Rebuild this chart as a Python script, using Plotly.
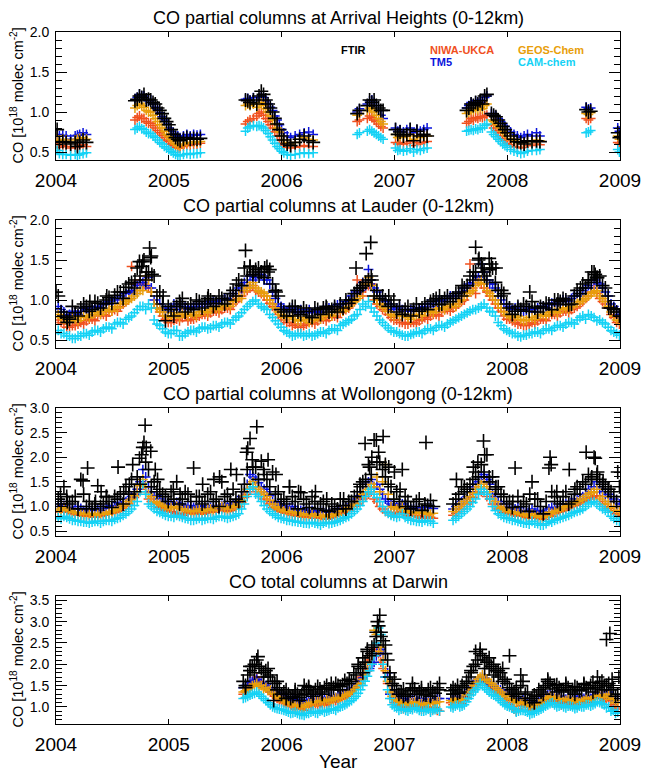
import plotly.graph_objects as go

# ---------------- Arrival Heights (0-12 km partial columns) ----------------
ah_t = [2004.01, 2004.03, 2004.06, 2004.09, 2004.13, 2004.17, 2004.19, 2004.21, 2004.24, 2004.27,
        2004.70, 2004.72, 2004.74, 2004.76, 2004.78, 2004.80, 2004.82, 2004.84, 2004.86, 2004.88,
        2004.90, 2004.92, 2004.94, 2004.96, 2004.98, 2005.00, 2005.02, 2005.04, 2005.06, 2005.08,
        2005.10, 2005.13, 2005.16, 2005.19, 2005.22, 2005.25, 2005.28,
        2005.68, 2005.70, 2005.72, 2005.75, 2005.78, 2005.80, 2005.82, 2005.84, 2005.86, 2005.88,
        2005.90, 2005.92, 2005.94, 2005.96, 2005.98, 2006.00, 2006.02, 2006.05, 2006.08, 2006.12,
        2006.16, 2006.20, 2006.24, 2006.28,
        2006.67, 2006.69, 2006.76, 2006.78, 2006.80, 2006.82, 2006.84, 2006.86, 2006.88, 2006.90,
        2007.01, 2007.03, 2007.05, 2007.08, 2007.11, 2007.14, 2007.17, 2007.20, 2007.23, 2007.26, 2007.29,
        2007.64, 2007.66, 2007.68, 2007.70, 2007.72, 2007.74, 2007.76, 2007.78, 2007.80, 2007.82,
        2007.86, 2007.88, 2007.90, 2007.92, 2007.94, 2007.96, 2007.98, 2008.00, 2008.03, 2008.06,
        2008.09, 2008.12, 2008.15, 2008.18, 2008.22, 2008.26, 2008.29,
        2008.70, 2008.72, 2008.74,
        2008.98, 2008.995]
ah_ftir = [0.78, 0.62, 0.63, 0.62, 0.60, 0.62, 0.57, 0.62, 0.65, 0.62,
           1.14, 1.16, 1.20, 1.18, 1.22, 1.15, 1.16, 1.15, 1.12, 1.10, 1.05, 1.02, 0.98, 0.92, 0.88,
           0.84, 0.78, 0.72, 0.68, 0.66, 0.64, 0.66, 0.68, 0.66, 0.67, 0.66, 0.67,
           1.15, 1.14, 1.12, 1.15, 1.10, 1.20, 1.26, 1.22, 1.15, 1.10, 1.05, 1.00, 0.92, 0.85, 0.78,
           0.70, 0.65, 0.60, 0.58, 0.62, 0.66, 0.70, 0.64, 0.62,
           0.98, 1.02, 1.08, 1.15, 1.12, 1.15, 1.08, 1.05, 1.02, 1.02,
           0.78, 0.72, 0.75, 0.70, 0.72, 0.78, 0.64, 0.76, 0.70, 0.72, 0.70,
           1.02, 1.05, 1.10, 1.08, 1.12, 1.10, 1.14, 1.10, 1.20, 1.22, 0.98, 0.96, 0.94, 0.90, 0.86, 0.82, 0.78,
           0.74, 0.70, 0.66, 0.63, 0.62, 0.60, 0.64, 0.63, 0.64, 0.63,
           1.03, 1.00, 1.01,
           0.74, 0.68]
ah_tm5 = [0.72, 0.70, 0.71, 0.70, 0.66, 0.70, 0.71, 0.72, 0.74, 0.72,
          1.15, 1.18, 1.22, 1.20, 1.20, 1.16, 1.14, 1.15, 1.10, 1.06, 1.03, 0.99, 0.94, 0.90, 0.85,
          0.80, 0.76, 0.73, 0.70, 0.70, 0.68, 0.70, 0.72, 0.70, 0.72, 0.71, 0.72,
          1.16, 1.17, 1.15, 1.18, 1.12, 1.18, 1.20, 1.18, 1.14, 1.10, 1.06, 1.02, 0.95, 0.90, 0.84,
          0.78, 0.74, 0.70, 0.68, 0.70, 0.72, 0.74, 0.75, 0.72,
          1.00, 1.04, 1.10, 1.14, 1.15, 1.12, 1.08, 1.02, 0.96, 0.92,
          0.80, 0.76, 0.78, 0.75, 0.78, 0.80, 0.74, 0.78, 0.76, 0.78, 0.80,
          1.05, 1.08, 1.12, 1.10, 1.14, 1.12, 1.15, 1.12, 1.18, 1.20, 0.98, 0.96, 0.95, 0.92, 0.88, 0.85, 0.82,
          0.78, 0.75, 0.72, 0.70, 0.68, 0.70, 0.72, 0.70, 0.74, 0.70,
          1.06, 1.04, 1.05,
          0.80, 0.76]
ah_geos = [0.70, 0.64, 0.66, 0.65, 0.62, 0.65, 0.66, 0.67, 0.68, 0.66,
           1.05, 1.08, 1.10, 1.08, 1.06, 1.02, 1.00, 1.00, 0.96, 0.92, 0.88, 0.84, 0.80, 0.76, 0.72,
           0.69, 0.66, 0.63, 0.60, 0.58, 0.58, 0.60, 0.62, 0.61, 0.63, 0.62, 0.63,
           1.08, 1.10, 1.08, 1.10, 1.06, 1.10, 1.12, 1.08, 1.04, 1.00, 0.95, 0.90, 0.85, 0.80, 0.75,
           0.70, 0.65, 0.62, 0.60, 0.62, 0.66, 0.68, 0.66, 0.65,
           0.96, 0.98, 1.02, 1.05, 1.04, 1.00, 0.96, 0.92, 0.88, 0.85,
           0.72, 0.68, 0.70, 0.68, 0.70, 0.72, 0.66, 0.70, 0.68, 0.70, 0.70,
           0.98, 1.00, 1.03, 1.02, 1.05, 1.03, 1.06, 1.04, 1.08, 1.10, 0.90, 0.88, 0.86, 0.83, 0.80, 0.76, 0.73,
           0.70, 0.67, 0.64, 0.62, 0.61, 0.62, 0.64, 0.63, 0.65, 0.64,
           0.98, 0.97, 0.99,
           0.70, 0.66]
ah_niwa = [0.60, 0.56, 0.58, 0.57, 0.55, 0.56, 0.56, 0.58, 0.59, 0.57,
           0.90, 0.93, 0.95, 0.92, 0.92, 0.88, 0.86, 0.86, 0.83, 0.80, 0.77, 0.74, 0.71, 0.68, 0.65,
           0.63, 0.60, 0.58, 0.56, 0.55, 0.55, 0.57, 0.59, 0.58, 0.60, 0.60, 0.61,
           0.85, 0.88, 0.90, 0.92, 0.95, 0.98, 1.00, 0.96, 0.92, 0.88, 0.84, 0.80, 0.75, 0.70, 0.65,
           0.61, 0.58, 0.56, 0.55, 0.56, 0.57, 0.58, 0.57, 0.57,
           0.88, 0.90, 0.92, 0.95, 0.93, 0.90, 0.88, 0.85, 0.82, 0.80,
           0.62, 0.60, 0.62, 0.60, 0.61, 0.63, 0.58, 0.62, 0.60, 0.62, 0.63,
           0.86, 0.88, 0.92, 0.90, 0.93, 0.92, 0.94, 0.93, 0.95, 0.96, 0.84, 0.80, 0.77, 0.74, 0.70, 0.67, 0.64,
           0.61, 0.59, 0.57, 0.56, 0.55, 0.56, 0.58, 0.58, 0.60, 0.59,
           0.92, 0.90, 0.92,
           0.62, 0.60]
ah_cam = [0.52, 0.48, 0.47, 0.47, 0.46, 0.47, 0.46, 0.47, 0.48, 0.49,
          0.78, 0.80, 0.82, 0.79, 0.78, 0.75, 0.73, 0.73, 0.70, 0.68, 0.65, 0.62, 0.60, 0.57, 0.55,
          0.53, 0.51, 0.49, 0.47, 0.46, 0.45, 0.47, 0.48, 0.47, 0.48, 0.48, 0.49,
          0.76, 0.80, 0.82, 0.83, 0.82, 0.83, 0.82, 0.80, 0.77, 0.73, 0.69, 0.65, 0.61, 0.57, 0.54,
          0.51, 0.49, 0.47, 0.46, 0.47, 0.48, 0.49, 0.48, 0.49,
          0.72, 0.74, 0.76, 0.78, 0.76, 0.74, 0.72, 0.70, 0.68, 0.66,
          0.55, 0.52, 0.53, 0.51, 0.52, 0.54, 0.50, 0.53, 0.52, 0.54, 0.55,
          0.76, 0.77, 0.78, 0.77, 0.79, 0.78, 0.80, 0.80, 0.83, 0.85, 0.75, 0.72, 0.69, 0.66, 0.63, 0.60, 0.58,
          0.56, 0.53, 0.51, 0.50, 0.48, 0.49, 0.51, 0.52, 0.52, 0.53,
          0.74, 0.75, 0.77,
          0.53, 0.50]

# ---------------- Lauder (0-12 km partial columns) ----------------
lau_t = [2004.02, 2004.07, 2004.12, 2004.17, 2004.22, 2004.27, 2004.32, 2004.37, 2004.42, 2004.47,
         2004.52, 2004.57, 2004.62, 2004.67, 2004.72, 2004.77, 2004.82, 2004.87, 2004.92, 2004.97,
         2005.02, 2005.07, 2005.12, 2005.17, 2005.22, 2005.27, 2005.32, 2005.37, 2005.42, 2005.47,
         2005.52, 2005.57, 2005.62, 2005.67, 2005.72, 2005.77, 2005.82, 2005.87, 2005.92, 2005.97,
         2006.02, 2006.07, 2006.12, 2006.17, 2006.22, 2006.27, 2006.32, 2006.37, 2006.42, 2006.47,
         2006.52, 2006.57, 2006.62, 2006.67, 2006.72, 2006.77, 2006.82, 2006.87, 2006.92, 2006.97,
         2007.02, 2007.07, 2007.12, 2007.17, 2007.22, 2007.27, 2007.32, 2007.37, 2007.42, 2007.47,
         2007.52, 2007.57, 2007.62, 2007.67, 2007.72, 2007.77, 2007.82, 2007.87, 2007.92, 2007.97,
         2008.02, 2008.07, 2008.12, 2008.17, 2008.22, 2008.27, 2008.32, 2008.37, 2008.42, 2008.47,
         2008.52, 2008.57, 2008.62, 2008.67, 2008.72, 2008.77, 2008.82, 2008.87, 2008.92, 2008.97]
lau_ftir = [1.05, 0.80, 0.76, 0.84, 0.90, 0.92, 0.88, 0.96, 0.95, 1.03, 1.06, 1.10, 1.16, 1.22, 1.40, 1.48, 1.35, 1.30, 1.10, 0.74,
            0.88, 0.92, 1.02, 0.90, 0.88, 0.98, 0.95, 1.00, 0.96, 1.02, 1.00, 1.12, 1.25, 1.40, 1.42, 1.38, 1.35, 1.42, 1.20, 1.05,
            0.85, 0.88, 0.92, 0.82, 0.86, 0.78, 0.88, 0.90, 0.85, 0.92, 0.95, 1.00, 1.00, 1.12, 1.18, 1.25, 1.05, 1.02, 1.00, 0.95,
            0.85, 0.82, 0.92, 0.88, 0.86, 0.95, 0.98, 1.02, 0.95, 1.05, 1.02, 1.10, 1.15, 1.30, 1.35, 1.45, 1.25, 1.40, 1.12, 1.08,
            0.90, 0.86, 0.88, 0.92, 0.98, 0.85, 0.90, 0.95, 1.00, 0.98, 1.00, 0.95, 1.12, 1.20, 1.25, 1.35, 1.30, 1.15, 0.90, 0.85]
lau_tm5 = [0.92, 0.85, 0.82, 0.84, 0.86, 0.88, 0.90, 0.92, 0.94, 0.98, 1.02, 1.05, 1.08, 1.12, 1.18, 1.22, 1.28, 1.00, 0.95, 0.88,
           0.90, 0.92, 0.95, 0.88, 0.92, 0.95, 0.98, 0.96, 0.98, 1.00, 1.02, 1.08, 1.15, 1.22, 1.30, 1.28, 1.32, 1.25, 1.10, 0.95,
           0.90, 0.88, 0.86, 0.88, 0.85, 0.84, 0.86, 0.88, 0.90, 0.92, 0.95, 0.98, 1.05, 1.10, 1.22, 1.38, 1.15, 1.05, 0.98, 0.92,
           0.90, 0.88, 0.86, 0.88, 0.90, 0.92, 0.95, 0.98, 1.00, 1.02, 1.05, 1.08, 1.15, 1.20, 1.30, 1.45, 1.25, 1.20, 1.05, 0.95,
           0.92, 0.90, 0.88, 0.86, 0.88, 0.90, 0.92, 0.94, 0.96, 0.98, 1.00, 1.02, 1.08, 1.12, 1.18, 1.25, 1.20, 1.10, 0.95, 0.85]
lau_geos = [0.82, 0.76, 0.74, 0.76, 0.78, 0.80, 0.82, 0.85, 0.86, 0.88, 0.92, 0.95, 0.98, 1.02, 1.08, 1.12, 1.25, 0.95, 0.88, 0.80,
            0.80, 0.82, 0.84, 0.80, 0.82, 0.85, 0.86, 0.88, 0.90, 0.92, 0.94, 0.98, 1.05, 1.12, 1.18, 1.15, 1.10, 1.05, 0.95, 0.85,
            0.80, 0.78, 0.76, 0.74, 0.76, 0.75, 0.78, 0.80, 0.82, 0.85, 0.88, 0.90, 0.96, 1.02, 1.15, 1.28, 1.05, 0.95, 0.90, 0.82,
            0.82, 0.80, 0.78, 0.80, 0.82, 0.85, 0.86, 0.88, 0.90, 0.92, 0.95, 0.98, 1.05, 1.10, 1.18, 1.25, 1.12, 1.05, 0.95, 0.85,
            0.80, 0.78, 0.76, 0.75, 0.78, 0.80, 0.82, 0.84, 0.86, 0.88, 0.90, 0.92, 0.96, 1.00, 1.05, 1.10, 1.05, 0.98, 0.85, 0.75]
lau_niwa = [0.75, 0.70, 0.66, 0.68, 0.72, 0.74, 0.76, 0.80, 0.82, 0.85, 0.88, 0.92, 0.98, 1.42, 1.12, 1.20, 1.15, 0.95, 0.85, 0.76,
            0.72, 0.76, 0.78, 0.74, 0.76, 0.80, 0.82, 0.84, 0.86, 0.88, 0.90, 0.95, 1.02, 1.10, 1.15, 1.12, 1.08, 1.00, 0.92, 0.82,
            0.75, 0.72, 0.70, 0.66, 0.70, 0.72, 0.74, 0.76, 0.78, 0.80, 0.84, 0.88, 0.95, 1.25, 1.05, 1.18, 1.00, 0.92, 0.86, 0.78,
            0.75, 0.72, 0.70, 0.72, 0.74, 0.78, 0.80, 0.82, 0.85, 0.88, 0.90, 0.95, 1.00, 1.45, 1.08, 1.20, 1.10, 1.00, 0.90, 0.80,
            0.76, 0.72, 0.70, 0.68, 0.72, 0.74, 0.76, 0.80, 0.82, 0.84, 0.86, 0.88, 0.92, 0.98, 1.05, 1.15, 1.02, 0.95, 0.82, 0.72]
lau_cam = [0.62, 0.58, 0.55, 0.52, 0.55, 0.58, 0.60, 0.62, 0.64, 0.66, 0.70, 0.72, 0.76, 0.80, 0.88, 0.92, 0.95, 0.75, 0.68, 0.60,
           0.58, 0.62, 0.55, 0.60, 0.62, 0.64, 0.66, 0.65, 0.68, 0.70, 0.72, 0.75, 0.80, 0.88, 0.95, 1.00, 0.92, 0.88, 0.78, 0.70,
           0.62, 0.58, 0.56, 0.58, 0.56, 0.55, 0.58, 0.60, 0.62, 0.64, 0.68, 0.72, 0.76, 0.82, 0.95, 0.98, 0.85, 0.75, 0.68, 0.62,
           0.60, 0.56, 0.55, 0.58, 0.60, 0.62, 0.64, 0.66, 0.68, 0.70, 0.74, 0.78, 0.82, 0.86, 0.88, 0.92, 0.90, 0.85, 0.72, 0.64,
           0.60, 0.58, 0.54, 0.56, 0.58, 0.60, 0.62, 0.64, 0.66, 0.68, 0.70, 0.72, 0.75, 0.80, 0.82, 0.78, 0.75, 0.70, 0.62, 0.58]
# second set of Lauder measurement days
lau_t_b = [2004.045, 2004.095, 2004.145, 2004.195, 2004.245, 2004.295, 2004.345, 2004.395, 2004.445, 2004.495,
           2004.545, 2004.595, 2004.645, 2004.695, 2004.745, 2004.795, 2004.845, 2004.895, 2004.945, 2004.995,
           2005.045, 2005.095, 2005.145, 2005.195, 2005.245, 2005.295, 2005.345, 2005.395, 2005.445, 2005.495,
           2005.545, 2005.595, 2005.645, 2005.695, 2005.745, 2005.795, 2005.845, 2005.895, 2005.945, 2005.995,
           2006.045, 2006.095, 2006.145, 2006.195, 2006.245, 2006.295, 2006.345, 2006.395, 2006.445, 2006.495,
           2006.545, 2006.595, 2006.645, 2006.695, 2006.745, 2006.795, 2006.845, 2006.895, 2006.945, 2006.995,
           2007.045, 2007.095, 2007.145, 2007.195, 2007.245, 2007.295, 2007.345, 2007.395, 2007.445, 2007.495,
           2007.545, 2007.595, 2007.645, 2007.695, 2007.745, 2007.795, 2007.845, 2007.895, 2007.945, 2007.995,
           2008.045, 2008.095, 2008.145, 2008.195, 2008.245, 2008.295, 2008.345, 2008.395, 2008.445, 2008.495,
           2008.545, 2008.595, 2008.645, 2008.695, 2008.745, 2008.795, 2008.845, 2008.895, 2008.945, 2008.995]
lau_ftir_b = [0.85, 0.78, 0.92, 0.80, 0.95, 0.86, 0.98, 0.90, 1.00, 0.96, 1.10, 1.02, 1.20, 1.15, 1.30, 1.25, 1.55, 1.05, 0.95, 0.92,
              0.80, 0.98, 0.85, 0.95, 1.00, 0.90, 1.02, 0.92, 1.05, 0.95, 1.08, 1.05, 1.18, 1.30, 1.32, 1.40, 1.28, 1.38, 1.12, 0.88,
              0.80, 0.92, 0.85, 0.90, 0.80, 0.90, 0.82, 0.92, 0.88, 0.85, 0.90, 0.96, 1.08, 1.15, 1.22, 1.30, 1.12, 1.05, 0.92, 1.00,
              0.92, 0.88, 0.80, 0.95, 0.90, 0.88, 1.00, 0.94, 1.02, 0.98, 1.08, 1.05, 1.18, 1.25, 1.50, 1.35, 1.38, 1.22, 1.05, 0.95,
              0.82, 0.92, 0.95, 0.86, 0.90, 0.92, 0.96, 0.88, 0.95, 1.02, 0.94, 1.05, 1.08, 1.15, 1.22, 1.28, 1.18, 1.05, 0.88, 0.80]
lau_tm5_b = [0.88, 0.80, 0.86, 0.82, 0.90, 0.85, 0.92, 0.90, 0.96, 0.95, 1.00, 1.02, 1.10, 1.08, 1.22, 1.18, 1.15, 0.95, 0.90, 0.85,
             0.95, 0.88, 0.92, 0.90, 0.95, 0.92, 0.95, 0.98, 0.95, 1.02, 1.00, 1.05, 1.12, 1.18, 1.25, 1.32, 1.25, 1.20, 1.02, 0.92,
             0.86, 0.90, 0.84, 0.85, 0.88, 0.86, 0.84, 0.90, 0.88, 0.94, 0.92, 1.00, 1.02, 1.12, 1.18, 1.25, 1.10, 1.00, 0.95, 0.88,
             0.92, 0.86, 0.88, 0.90, 0.88, 0.95, 0.92, 1.00, 0.98, 1.05, 1.02, 1.10, 1.12, 1.22, 1.28, 1.35, 1.20, 1.15, 1.00, 0.90,
             0.88, 0.92, 0.86, 0.90, 0.85, 0.92, 0.90, 0.96, 0.94, 1.00, 0.98, 1.05, 1.05, 1.15, 1.15, 1.22, 1.15, 1.05, 0.92, 0.82]
lau_geos_b = [0.78, 0.72, 0.78, 0.74, 0.80, 0.78, 0.84, 0.82, 0.88, 0.86, 0.90, 0.96, 1.00, 1.05, 1.12, 1.30, 1.10, 0.90, 0.85, 0.78,
              0.84, 0.78, 0.82, 0.84, 0.80, 0.86, 0.84, 0.90, 0.88, 0.94, 0.92, 1.00, 1.02, 1.15, 1.22, 1.12, 1.08, 1.00, 0.90, 0.82,
              0.78, 0.80, 0.74, 0.78, 0.72, 0.78, 0.76, 0.82, 0.80, 0.86, 0.86, 0.92, 0.98, 1.05, 1.20, 1.18, 1.00, 0.92, 0.86, 0.80,
              0.80, 0.82, 0.76, 0.82, 0.80, 0.86, 0.84, 0.90, 0.88, 0.94, 0.92, 1.00, 1.08, 1.12, 1.22, 1.20, 1.08, 1.00, 0.90, 0.82,
              0.78, 0.80, 0.74, 0.78, 0.76, 0.82, 0.80, 0.86, 0.84, 0.90, 0.88, 0.95, 0.98, 1.02, 1.08, 1.12, 1.02, 0.92, 0.80, 0.74]
lau_niwa_b = [0.72, 0.66, 0.68, 0.70, 0.70, 0.76, 0.74, 0.82, 0.80, 0.86, 0.86, 0.95, 1.02, 1.20, 1.25, 1.18, 1.10, 0.90, 0.80, 0.72,
              0.75, 0.74, 0.80, 0.76, 0.78, 0.82, 0.80, 0.86, 0.84, 0.90, 0.88, 0.98, 1.05, 1.12, 1.18, 1.10, 1.05, 0.96, 0.88, 0.78,
              0.72, 0.68, 0.66, 0.68, 0.72, 0.70, 0.76, 0.74, 0.80, 0.78, 0.86, 0.90, 0.98, 1.10, 1.15, 1.20, 0.95, 0.88, 0.82, 0.75,
              0.72, 0.70, 0.72, 0.70, 0.76, 0.76, 0.82, 0.80, 0.88, 0.86, 0.92, 0.98, 1.05, 1.15, 1.25, 1.15, 1.05, 0.95, 0.86, 0.76,
              0.74, 0.70, 0.68, 0.70, 0.70, 0.76, 0.74, 0.82, 0.80, 0.86, 0.84, 0.90, 0.95, 1.02, 1.10, 1.08, 0.98, 0.90, 0.78, 0.70]
lau_cam_b = [0.58, 0.55, 0.52, 0.55, 0.58, 0.56, 0.62, 0.60, 0.66, 0.64, 0.72, 0.70, 0.78, 0.84, 0.92, 0.88, 0.90, 0.70, 0.64, 0.58,
             0.62, 0.55, 0.58, 0.62, 0.60, 0.66, 0.64, 0.68, 0.66, 0.72, 0.70, 0.78, 0.84, 0.92, 0.98, 0.95, 0.90, 0.82, 0.74, 0.66,
             0.60, 0.55, 0.58, 0.55, 0.58, 0.56, 0.60, 0.58, 0.64, 0.62, 0.70, 0.74, 0.80, 0.88, 0.92, 0.90, 0.80, 0.72, 0.65, 0.60,
             0.58, 0.55, 0.57, 0.60, 0.58, 0.64, 0.62, 0.68, 0.66, 0.72, 0.76, 0.80, 0.84, 0.88, 0.90, 0.95, 0.86, 0.80, 0.68, 0.62,
             0.58, 0.55, 0.56, 0.58, 0.60, 0.58, 0.64, 0.62, 0.68, 0.66, 0.72, 0.70, 0.78, 0.76, 0.80, 0.74, 0.72, 0.66, 0.60, 0.56]
lau_ftir_extra_t = [2004.00, 2004.10, 2004.30, 2004.45, 2004.60, 2004.70, 2004.74, 2004.76, 2004.78, 2004.80,
                    2004.83, 2004.84, 2004.85, 2004.95, 2005.10, 2005.35, 2005.60, 2005.68, 2005.72, 2005.75,
                    2005.80, 2005.85, 2005.88, 2005.95, 2006.10, 2006.40, 2006.62, 2006.66, 2006.70, 2006.75,
                    2006.79, 2006.80, 2006.95, 2007.40, 2007.60, 2007.70, 2007.72, 2007.75, 2007.78, 2007.80,
                    2007.84, 2007.86, 2007.90, 2007.95, 2008.20, 2008.45, 2008.65, 2008.72, 2008.75, 2008.78,
                    2008.80, 2008.90]
lau_ftir_extra_v = [1.10, 0.72, 0.98, 1.05, 1.10, 1.25, 1.48, 1.42, 1.50, 1.35,
                    1.65, 1.53, 1.32, 1.05, 0.95, 1.05, 1.20, 1.62, 1.42, 1.35,
                    1.30, 1.40, 1.35, 1.10, 0.80, 0.90, 1.00, 1.40, 1.15, 1.58,
                    1.72, 1.25, 1.05, 1.05, 1.18, 1.35, 1.66, 1.52, 1.40, 1.30,
                    1.52, 1.45, 1.40, 1.12, 1.10, 1.00, 1.15, 1.25, 1.35, 1.32,
                    1.28, 0.90]

# ---------------- Wollongong (0-12 km partial columns) ----------------
wol_t = [2004.02, 2004.07, 2004.12, 2004.17, 2004.22, 2004.27, 2004.32, 2004.37, 2004.42, 2004.47,
         2004.52, 2004.57, 2004.62, 2004.67, 2004.72, 2004.77, 2004.82, 2004.87, 2004.92, 2004.97,
         2005.02, 2005.07, 2005.12, 2005.17, 2005.22, 2005.27, 2005.32, 2005.37, 2005.42, 2005.47,
         2005.52, 2005.57, 2005.62, 2005.67, 2005.72, 2005.77, 2005.82, 2005.87, 2005.92, 2005.97,
         2006.02, 2006.07, 2006.12, 2006.17, 2006.22, 2006.27, 2006.32, 2006.37, 2006.42, 2006.47,
         2006.52, 2006.57, 2006.62, 2006.67, 2006.72, 2006.77, 2006.82, 2006.87, 2006.92, 2006.97,
         2007.02, 2007.07, 2007.12, 2007.17, 2007.22, 2007.27, 2007.32,
         2007.52, 2007.57, 2007.62, 2007.67, 2007.72, 2007.77, 2007.82, 2007.87, 2007.92, 2007.97,
         2008.02, 2008.07, 2008.12, 2008.17, 2008.22, 2008.27, 2008.32, 2008.37, 2008.42, 2008.47,
         2008.52, 2008.57, 2008.62, 2008.67, 2008.72, 2008.77, 2008.82, 2008.87, 2008.92, 2008.97]
wol_ftir = [1.15, 1.40, 1.05, 1.20, 1.55, 1.00, 0.95, 1.42, 1.05, 1.10, 1.20, 1.25, 1.40, 1.55, 1.60, 2.20, 1.75, 1.50, 1.35, 1.20,
            1.30, 1.50, 1.15, 1.25, 1.78, 1.20, 1.10, 1.30, 1.15, 1.50, 1.25, 1.35, 1.10, 1.45, 2.38, 1.80, 1.92, 1.55, 1.70, 1.30,
            1.15, 1.40, 1.10, 1.28, 1.05, 1.20, 0.95, 1.10, 0.90, 1.00, 1.15, 0.95, 1.10, 1.30, 1.50, 1.85, 2.35, 1.90, 1.60, 1.40,
            1.30, 1.75, 1.10, 1.00, 1.15, 1.05, 1.12,
            1.05, 1.25, 1.30, 1.45, 1.70, 1.85, 2.05, 1.60, 1.40, 1.20,
            1.10, 1.78, 1.00, 1.05, 1.50, 1.15, 0.85, 1.78, 1.20, 1.05, 1.30, 1.10, 1.40, 1.50, 1.65, 2.00, 1.55, 1.40, 1.30, 1.10]
wol_tm5 = [1.00, 1.02, 0.98, 0.95, 0.96, 0.94, 0.92, 0.95, 0.96, 0.98, 1.00, 1.05, 1.10, 1.20, 1.35, 1.75, 1.40, 1.20, 1.15, 1.10,
           1.05, 1.08, 1.02, 1.00, 0.98, 1.00, 0.96, 0.98, 1.00, 1.02, 1.00, 1.05, 1.10, 1.30, 1.65, 1.55, 1.40, 1.30, 1.10, 1.05,
           1.00, 0.98, 0.95, 0.92, 0.90, 0.92, 0.88, 0.90, 0.88, 0.92, 0.95, 0.98, 1.05, 1.15, 1.30, 1.50, 1.40, 1.35, 1.15, 1.05,
           1.00, 1.05, 0.98, 0.95, 0.95, 0.98, 1.00,
           0.95, 1.05, 1.15, 1.30, 1.45, 1.60, 1.55, 1.25, 1.10, 1.00,
           0.98, 0.95, 0.92, 0.90, 0.95, 0.90, 0.85, 0.95, 0.98, 1.00, 1.05, 1.10, 1.15, 1.20, 1.35, 1.40, 1.30, 1.20, 1.10, 1.00]
wol_geos = [0.95, 0.98, 0.92, 0.88, 0.86, 0.85, 0.84, 0.85, 0.86, 0.88, 0.92, 0.98, 1.05, 1.15, 1.30, 1.55, 1.25, 1.10, 1.05, 1.00,
            0.98, 1.00, 0.95, 0.92, 0.90, 0.95, 0.92, 0.95, 0.98, 1.00, 0.95, 1.00, 1.05, 1.22, 1.45, 1.40, 1.30, 1.20, 1.05, 0.98,
            0.92, 0.90, 0.88, 0.85, 0.82, 0.85, 0.80, 0.82, 0.80, 0.85, 0.90, 0.95, 1.02, 1.10, 1.25, 1.35, 1.40, 1.30, 1.85, 1.00,
            0.95, 1.00, 0.90, 0.88, 0.86, 0.88, 0.85,
            0.90, 1.00, 1.10, 1.20, 1.35, 1.45, 1.40, 1.15, 1.00, 0.95,
            0.90, 0.88, 0.85, 0.82, 0.85, 0.80, 0.78, 0.88, 0.90, 0.95, 1.00, 1.05, 1.10, 1.15, 1.25, 1.30, 1.15, 1.05, 0.98, 0.90]
wol_niwa = [0.90, 0.92, 0.88, 0.85, 0.82, 0.80, 0.80, 0.82, 0.82, 0.85, 0.88, 0.92, 1.00, 1.10, 1.25, 1.45, 1.15, 1.05, 0.98, 0.92,
            0.90, 0.85, 0.82, 0.88, 0.85, 0.88, 0.86, 0.90, 0.92, 0.95, 0.90, 0.95, 1.00, 1.18, 1.35, 1.30, 1.20, 1.10, 0.98, 0.92,
            0.88, 0.85, 0.82, 0.80, 0.78, 0.80, 0.76, 0.78, 0.76, 0.80, 0.85, 0.90, 0.95, 1.05, 1.15, 1.25, 1.15, 1.00, 0.90, 0.85,
            0.85, 0.90, 0.82, 0.80, 0.78, 0.80, 0.78,
            0.82, 0.90, 1.00, 1.10, 1.25, 1.30, 1.20, 1.05, 0.95, 0.88,
            0.85, 0.82, 0.80, 0.78, 0.80, 0.76, 0.74, 0.82, 0.85, 0.90, 0.95, 1.00, 1.05, 1.10, 1.15, 1.20, 1.10, 1.00, 0.92, 0.85]
wol_cam = [0.78, 0.80, 0.75, 0.72, 0.70, 0.68, 0.68, 0.70, 0.70, 0.72, 0.74, 0.78, 0.85, 0.95, 1.10, 1.45, 1.05, 0.95, 0.88, 0.82,
           0.80, 0.82, 0.78, 0.75, 0.72, 0.76, 0.74, 0.76, 0.78, 0.80, 0.76, 0.80, 0.85, 1.05, 1.35, 1.25, 1.10, 0.95, 0.85, 0.78,
           0.75, 0.72, 0.70, 0.68, 0.66, 0.68, 0.65, 0.66, 0.65, 0.68, 0.72, 0.78, 0.85, 0.95, 1.10, 1.30, 1.25, 1.10, 0.90, 0.82,
           0.78, 0.85, 0.75, 0.72, 0.70, 0.72, 0.70,
           0.72, 0.80, 0.90, 1.00, 1.15, 1.35, 1.25, 1.00, 0.85, 0.78,
           0.75, 0.72, 0.68, 0.66, 0.70, 0.65, 0.62, 0.70, 0.72, 0.76, 0.80, 0.85, 0.90, 0.95, 1.05, 1.10, 1.00, 0.92, 0.80, 0.72]
# second set of Wollongong measurement days
wol_t_b = [2004.045, 2004.095, 2004.145, 2004.195, 2004.245, 2004.295, 2004.345, 2004.395, 2004.445, 2004.495,
           2004.545, 2004.595, 2004.645, 2004.695, 2004.745, 2004.795, 2004.845, 2004.895, 2004.945, 2004.995,
           2005.045, 2005.095, 2005.145, 2005.195, 2005.245, 2005.295, 2005.345, 2005.395, 2005.445, 2005.495,
           2005.545, 2005.595, 2005.645, 2005.695, 2005.745, 2005.795, 2005.845, 2005.895, 2005.945, 2005.995,
           2006.045, 2006.095, 2006.145, 2006.195, 2006.245, 2006.295, 2006.345, 2006.395, 2006.445, 2006.495,
           2006.545, 2006.595, 2006.645, 2006.695, 2006.745, 2006.795, 2006.845, 2006.895, 2006.945, 2006.995,
           2007.045, 2007.095, 2007.145, 2007.195, 2007.245, 2007.295, 2007.345,
           2007.545, 2007.595, 2007.645, 2007.695, 2007.745, 2007.795, 2007.845, 2007.895, 2007.945, 2007.995,
           2008.045, 2008.095, 2008.145, 2008.195, 2008.245, 2008.295, 2008.345, 2008.395, 2008.445, 2008.495,
           2008.545, 2008.595, 2008.645, 2008.695, 2008.745, 2008.795, 2008.845, 2008.895, 2008.945, 2008.995]
wol_ftir_b = [1.05, 1.20, 1.10, 0.95, 1.25, 1.10, 1.05, 1.00, 1.20, 0.98, 1.15, 1.05, 1.25, 1.30, 1.45, 1.90, 1.40, 1.30, 1.25, 1.10,
              1.15, 1.05, 1.30, 1.10, 1.20, 1.05, 1.25, 1.10, 1.00, 1.20, 1.10, 1.15, 1.30, 1.75, 1.80, 1.55, 1.65, 1.40, 1.25, 1.10,
              1.05, 1.20, 0.95, 1.15, 0.98, 1.10, 1.05, 0.92, 1.05, 0.95, 1.02, 1.10, 1.20, 1.45, 1.55, 1.65, 1.90, 1.75, 1.45, 1.15,
              1.10, 1.20, 0.95, 1.10, 0.92, 1.02, 1.00,
              1.15, 1.40, 1.35, 1.55, 1.60, 1.70, 1.50, 1.35, 1.25, 1.05,
              0.98, 1.20, 1.10, 0.90, 1.15, 1.00, 1.10, 1.30, 1.10, 1.20, 1.05, 1.25, 1.35, 1.45, 1.55, 1.65, 1.45, 1.35, 1.20, 1.40]
wol_tm5_b = [1.05, 0.96, 0.95, 1.00, 0.92, 0.95, 0.96, 0.92, 1.00, 1.02, 1.08, 1.02, 1.15, 1.25, 1.50, 1.60, 1.30, 1.22, 1.10, 1.05,
             1.00, 1.05, 0.98, 1.02, 0.95, 1.02, 0.98, 1.02, 0.96, 1.05, 1.02, 1.08, 1.20, 1.45, 1.60, 1.48, 1.35, 1.22, 1.08, 1.02,
             0.96, 1.00, 0.92, 0.95, 0.88, 0.90, 0.92, 0.88, 0.92, 0.90, 0.98, 1.02, 1.10, 1.22, 1.45, 1.55, 1.45, 1.25, 1.10, 1.02,
             1.05, 1.00, 0.95, 0.98, 0.92, 1.00, 0.96,
             1.00, 1.10, 1.20, 1.40, 1.50, 1.65, 1.45, 1.20, 1.05, 0.98,
             0.95, 0.98, 0.90, 0.92, 0.88, 0.92, 0.90, 0.98, 0.95, 1.05, 1.02, 1.15, 1.12, 1.25, 1.30, 1.50, 1.35, 1.25, 1.15, 1.05]
wol_geos_b = [0.92, 0.95, 0.88, 0.86, 0.84, 0.86, 0.82, 0.86, 0.84, 0.90, 0.95, 1.02, 1.10, 1.22, 1.42, 1.40, 1.20, 1.08, 1.02, 0.95,
              1.00, 0.96, 0.92, 0.90, 0.92, 0.90, 0.96, 0.92, 1.00, 0.98, 0.98, 1.02, 1.12, 1.35, 1.50, 1.35, 1.25, 1.12, 1.00, 0.95,
              0.90, 0.88, 0.86, 0.82, 0.84, 0.80, 0.82, 0.78, 0.84, 0.82, 0.92, 0.98, 1.05, 1.18, 1.30, 1.45, 1.60, 1.50, 1.25, 0.98,
              0.98, 0.92, 0.88, 0.86, 0.88, 0.84, 0.86,
              0.95, 1.05, 1.15, 1.28, 1.40, 1.50, 1.30, 1.10, 0.98, 0.92,
              0.88, 0.86, 0.84, 0.80, 0.82, 0.78, 0.80, 0.86, 0.92, 0.98, 1.02, 1.08, 1.12, 1.20, 1.28, 1.35, 1.20, 1.10, 1.00, 0.92]
wol_niwa_b = [0.88, 0.90, 0.85, 0.82, 0.80, 0.82, 0.78, 0.80, 0.84, 0.86, 0.90, 0.96, 1.05, 1.18, 1.35, 1.30, 1.10, 1.00, 0.95, 0.90,
              0.88, 0.84, 0.86, 0.85, 0.86, 0.84, 0.88, 0.88, 0.94, 0.92, 0.92, 0.98, 1.08, 1.25, 1.40, 1.25, 1.15, 1.05, 0.95, 0.90,
              0.86, 0.82, 0.80, 0.78, 0.80, 0.76, 0.78, 0.74, 0.78, 0.82, 0.88, 0.92, 1.00, 1.10, 1.20, 1.30, 1.10, 0.95, 0.88, 0.86,
              0.88, 0.85, 0.80, 0.82, 0.76, 0.80, 0.76,
              0.86, 0.95, 1.05, 1.18, 1.28, 1.35, 1.15, 1.00, 0.92, 0.86,
              0.84, 0.80, 0.82, 0.76, 0.78, 0.75, 0.78, 0.80, 0.88, 0.92, 0.98, 1.02, 1.08, 1.12, 1.18, 1.22, 1.05, 0.96, 0.90, 0.82]
wol_cam_b = [0.75, 0.78, 0.72, 0.70, 0.68, 0.66, 0.70, 0.66, 0.72, 0.70, 0.76, 0.82, 0.90, 1.02, 1.30, 1.25, 1.00, 0.90, 0.85, 0.80,
             0.78, 0.80, 0.76, 0.72, 0.74, 0.72, 0.76, 0.74, 0.80, 0.78, 0.78, 0.82, 0.95, 1.20, 1.40, 1.20, 1.02, 0.90, 0.82, 0.76,
             0.72, 0.70, 0.68, 0.66, 0.65, 0.66, 0.62, 0.68, 0.66, 0.70, 0.75, 0.80, 0.90, 1.02, 1.20, 1.35, 1.18, 1.00, 0.86, 0.80,
             0.80, 0.78, 0.72, 0.70, 0.68, 0.70, 0.66,
             0.76, 0.85, 0.95, 1.08, 1.25, 1.30, 1.15, 0.92, 0.82, 0.76,
             0.72, 0.70, 0.66, 0.64, 0.66, 0.62, 0.65, 0.68, 0.74, 0.78, 0.82, 0.88, 0.92, 1.00, 1.08, 1.05, 0.95, 0.88, 0.76, 0.70]
wol_ftir_extra_t = [2004.04, 2004.10, 2004.24, 2004.28, 2004.35, 2004.40, 2004.45, 2004.55, 2004.60, 2004.65,
                    2004.68, 2004.74, 2004.76, 2004.78, 2004.79, 2004.80, 2004.84, 2004.88, 2004.90, 2005.04,
                    2005.10, 2005.30, 2005.40, 2005.45, 2005.55, 2005.60, 2005.69, 2005.70, 2005.74, 2005.78,
                    2005.84, 2005.88, 2005.95, 2006.07, 2006.15, 2006.30, 2006.40, 2006.55, 2006.70, 2006.74,
                    2006.78, 2006.80, 2006.84, 2006.86, 2006.90, 2006.92, 2006.95, 2007.00, 2007.05, 2007.10,
                    2007.28, 2007.55, 2007.62, 2007.70, 2007.74, 2007.79, 2007.80, 2007.84, 2007.90, 2008.05,
                    2008.20, 2008.38, 2008.39, 2008.44, 2008.55, 2008.60, 2008.70, 2008.75, 2008.78, 2008.80,
                    2008.85, 2008.90, 2008.98]
wol_ftir_extra_v = [1.25, 1.10, 1.52, 1.78, 1.10, 1.30, 1.20, 1.80, 1.30, 1.45,
                    1.85, 1.98, 2.05, 2.30, 2.65, 2.20, 2.12, 1.75, 1.55, 1.35,
                    1.25, 1.45, 1.55, 1.60, 1.75, 1.65, 2.10, 2.18, 1.95, 2.62,
                    1.75, 1.95, 1.65, 1.40, 1.30, 1.30, 1.15, 1.15, 1.40, 2.28,
                    1.80, 2.00, 2.35, 2.10, 2.42, 1.85, 1.80, 1.70, 1.35, 1.00,
                    2.30, 1.55, 1.40, 1.80, 1.90, 2.33, 2.05, 1.60, 1.40, 1.10,
                    1.25, 2.00, 1.85, 1.30, 1.75, 1.35, 2.10, 1.60, 1.98, 1.70,
                    1.50, 1.35, 1.70]

# ---------------- Darwin (total columns) ----------------
dar_t = [2005.66, 2005.70, 2005.74, 2005.78, 2005.82, 2005.86, 2005.90, 2005.94, 2005.98,
         2006.02, 2006.06, 2006.10, 2006.14, 2006.18, 2006.22, 2006.26, 2006.30, 2006.34, 2006.38,
         2006.42, 2006.46, 2006.50, 2006.54, 2006.58, 2006.62, 2006.66, 2006.70, 2006.74, 2006.78,
         2006.82, 2006.86, 2006.90, 2006.94, 2006.98,
         2007.02, 2007.06, 2007.10, 2007.14, 2007.18, 2007.22, 2007.26, 2007.30, 2007.34, 2007.38,
         2007.50, 2007.54, 2007.58, 2007.62, 2007.66, 2007.70, 2007.74, 2007.78, 2007.82, 2007.86,
         2007.90, 2007.94, 2007.98,
         2008.02, 2008.06, 2008.10, 2008.14, 2008.18, 2008.22, 2008.26, 2008.30, 2008.34, 2008.38,
         2008.42, 2008.46, 2008.50, 2008.54, 2008.58, 2008.62, 2008.66, 2008.70, 2008.74, 2008.78,
         2008.82, 2008.86, 2008.90, 2008.94, 2008.98]
dar_ftir = [1.60, 1.75, 1.95, 2.10, 1.90, 1.85, 1.75, 1.55, 1.45,
            1.35, 1.30, 1.25, 1.30, 1.28, 1.40, 1.35, 1.40, 1.42, 1.45, 1.42, 1.45, 1.50, 1.52, 1.55, 1.60,
            1.75, 1.90, 2.05, 2.20, 2.45, 2.90, 2.55, 2.10, 1.55,
            1.40, 1.35, 1.30, 1.38, 1.42, 1.35, 1.30, 1.40, 1.35, 1.45,
            1.38, 1.40, 1.35, 1.45, 1.70, 1.95, 2.10, 2.20, 2.05, 1.95, 1.85, 1.80, 1.65,
            1.45, 1.35, 1.30, 1.60, 1.35, 1.20, 1.25, 1.35, 1.50, 1.55, 1.50, 1.45, 1.40, 1.45, 1.40, 1.45,
            1.40, 1.45, 1.50, 1.45, 1.55, 1.50, 1.55, 1.45, 1.30]
dar_tm5 = [1.45, 1.50, 1.60, 1.65, 1.55, 1.50, 1.45, 1.35, 1.30,
           1.25, 1.22, 1.18, 1.15, 1.10, 1.15, 1.18, 1.20, 1.22, 1.20, 1.22, 1.25, 1.28, 1.30, 1.35, 1.40,
           1.50, 1.60, 1.75, 1.90, 2.05, 2.40, 2.25, 1.80, 1.40,
           1.25, 1.20, 1.15, 1.18, 1.20, 1.15, 1.12, 1.18, 1.15, 1.20,
           1.20, 1.22, 1.20, 1.25, 1.40, 1.55, 1.65, 1.70, 1.60, 1.50, 1.45, 1.40, 1.30,
           1.25, 1.20, 1.15, 1.20, 1.10, 1.05, 1.10, 1.15, 1.25, 1.30, 1.28, 1.25, 1.20, 1.22, 1.20, 1.18,
           1.22, 1.25, 1.20, 1.28, 1.30, 1.25, 1.35, 1.25, 1.20]
dar_geos = [1.35, 1.40, 1.50, 1.55, 1.50, 1.45, 1.40, 1.30, 1.22,
            1.15, 1.10, 1.05, 1.02, 1.00, 1.05, 1.10, 1.12, 1.15, 1.12, 1.15, 1.18, 1.20, 1.25, 1.30, 1.35,
            1.45, 1.55, 1.75, 2.00, 2.80, 2.30, 2.10, 1.60, 1.25,
            1.15, 1.10, 1.05, 1.10, 1.12, 1.08, 1.05, 1.10, 1.08, 1.12,
            1.15, 1.18, 1.15, 1.20, 1.35, 1.50, 1.65, 1.75, 1.65, 1.55, 1.45, 1.35, 1.25,
            1.20, 1.15, 1.10, 1.12, 1.05, 1.00, 1.05, 1.10, 1.20, 1.25, 1.22, 1.20, 1.15, 1.18, 1.15, 1.12,
            1.15, 1.20, 1.15, 1.25, 1.28, 1.22, 1.30, 1.20, 1.15]
dar_niwa = [1.30, 1.40, 1.55, 1.70, 1.55, 1.45, 1.35, 1.25, 1.15,
            1.10, 1.05, 1.00, 0.98, 0.95, 1.00, 1.02, 1.05, 1.08, 1.05, 1.10, 1.12, 1.15, 1.20, 1.25, 1.35,
            1.50, 1.70, 1.90, 2.10, 2.35, 2.25, 1.90, 1.55, 1.20,
            1.05, 1.00, 0.98, 1.02, 1.05, 1.00, 0.98, 1.00, 0.95, 0.92,
            1.10, 1.12, 1.10, 1.15, 1.30, 1.45, 1.55, 1.60, 1.55, 1.45, 1.35, 1.25, 1.15,
            1.05, 0.95, 0.95, 1.10, 1.00, 0.95, 1.00, 1.05, 1.12, 1.15, 1.12, 1.10, 1.08, 1.10, 1.08, 1.05,
            1.10, 1.15, 1.10, 1.25, 1.20, 1.15, 1.20, 1.05, 1.00]
dar_cam = [1.20, 1.25, 1.30, 1.35, 1.25, 1.15, 1.05, 0.98, 0.95,
           0.92, 0.88, 0.86, 0.85, 0.82, 0.85, 0.88, 0.86, 0.90, 0.88, 0.92, 0.95, 0.98, 1.02, 1.08, 1.15,
           1.25, 1.40, 1.60, 1.85, 2.20, 2.85, 2.00, 1.40, 1.05,
           0.98, 0.95, 0.92, 0.95, 0.98, 0.92, 0.90, 0.95, 0.92, 0.95,
           1.00, 1.02, 1.00, 1.05, 1.20, 1.35, 1.45, 1.50, 1.40, 1.30, 1.25, 1.15, 1.05,
           1.00, 0.95, 0.90, 0.92, 0.88, 0.85, 0.90, 0.95, 1.02, 1.08, 1.05, 1.02, 1.00, 1.02, 1.00, 0.98,
           1.00, 1.05, 1.02, 1.08, 1.10, 1.05, 1.00, 0.92, 0.88]
# second set of Darwin measurement days
dar_t_b = [2005.68, 2005.72, 2005.76, 2005.80, 2005.84, 2005.88, 2005.92, 2005.96,
           2006.00, 2006.04, 2006.08, 2006.12, 2006.16, 2006.20, 2006.24, 2006.28, 2006.32, 2006.36,
           2006.40, 2006.44, 2006.48, 2006.52, 2006.56, 2006.60, 2006.64, 2006.68, 2006.72, 2006.76,
           2006.80, 2006.84, 2006.88, 2006.92, 2006.96,
           2007.00, 2007.04, 2007.08, 2007.12, 2007.16, 2007.20, 2007.24, 2007.28, 2007.32, 2007.36, 2007.40,
           2007.52, 2007.56, 2007.60, 2007.64, 2007.68, 2007.72, 2007.76, 2007.80, 2007.84, 2007.88,
           2007.92, 2007.96,
           2008.00, 2008.04, 2008.08, 2008.12, 2008.16, 2008.20, 2008.24, 2008.28, 2008.32, 2008.36,
           2008.40, 2008.44, 2008.48, 2008.52, 2008.56, 2008.60, 2008.64, 2008.68, 2008.72, 2008.76,
           2008.80, 2008.84, 2008.88, 2008.92, 2008.96]
dar_ftir_b = [1.50, 1.85, 2.00, 1.95, 1.80, 1.70, 1.60, 1.40,
              1.30, 1.40, 1.20, 1.35, 1.22, 1.30, 1.45, 1.30, 1.48, 1.35, 1.50, 1.40, 1.55, 1.48, 1.62, 1.55,
              1.80, 1.95, 2.15, 2.35, 2.40, 2.65, 2.75, 2.25, 1.70,
              1.50, 1.30, 1.42, 1.25, 1.45, 1.30, 1.38, 1.28, 1.45, 1.32, 1.40,
              1.45, 1.32, 1.50, 1.60, 1.85, 2.00, 2.25, 2.10, 1.90, 1.75, 1.85, 1.60,
              1.55, 1.40, 1.25, 1.50, 1.30, 1.15, 1.28, 1.40, 1.45, 1.60, 1.42, 1.52, 1.38, 1.50, 1.35, 1.48,
              1.38, 1.52, 1.42, 1.58, 1.45, 1.60, 1.50, 1.40, 1.25]
dar_tm5_b = [1.50, 1.58, 1.62, 1.55, 1.48, 1.45, 1.38, 1.32,
             1.28, 1.20, 1.15, 1.18, 1.12, 1.08, 1.15, 1.20, 1.18, 1.22, 1.20, 1.25, 1.22, 1.30, 1.32, 1.38,
             1.45, 1.55, 1.68, 1.85, 2.00, 2.20, 2.35, 1.70, 1.30,
             1.22, 1.18, 1.20, 1.12, 1.18, 1.15, 1.20, 1.12, 1.18, 1.15, 1.20,
             1.18, 1.25, 1.22, 1.32, 1.45, 1.60, 1.62, 1.68, 1.55, 1.48, 1.42, 1.35,
             1.28, 1.18, 1.20, 1.12, 1.15, 1.08, 1.05, 1.12, 1.20, 1.28, 1.25, 1.22, 1.25, 1.18, 1.22, 1.20,
             1.25, 1.20, 1.25, 1.22, 1.32, 1.28, 1.30, 1.20, 1.15]
dar_geos_b = [1.38, 1.45, 1.52, 1.48, 1.42, 1.38, 1.32, 1.25,
              1.18, 1.12, 1.08, 1.05, 1.02, 1.00, 1.08, 1.10, 1.12, 1.15, 1.18, 1.15, 1.22, 1.22, 1.28, 1.32,
              1.40, 1.50, 1.65, 1.85, 2.20, 2.70, 2.40, 1.85, 1.35,
              1.18, 1.12, 1.08, 1.05, 1.10, 1.05, 1.08, 1.05, 1.10, 1.08, 1.12,
              1.12, 1.20, 1.18, 1.28, 1.42, 1.58, 1.70, 1.62, 1.58, 1.50, 1.40, 1.30,
              1.25, 1.18, 1.12, 1.08, 1.10, 1.02, 1.00, 1.08, 1.15, 1.22, 1.25, 1.18, 1.20, 1.15, 1.20, 1.12,
              1.18, 1.15, 1.22, 1.20, 1.28, 1.25, 1.25, 1.18, 1.10]
dar_niwa_b = [1.35, 1.48, 1.62, 1.60, 1.50, 1.40, 1.30, 1.20,
              1.12, 1.08, 1.02, 0.95, 0.98, 0.92, 1.00, 1.05, 1.02, 1.08, 1.05, 1.12, 1.15, 1.18, 1.22, 1.30,
              1.42, 1.60, 1.80, 2.00, 2.25, 2.30, 2.05, 1.70, 1.30,
              1.10, 1.02, 0.96, 1.00, 0.98, 1.02, 0.95, 1.00, 0.92, 0.98, 0.90,
              1.05, 1.15, 1.08, 1.22, 1.38, 1.50, 1.62, 1.58, 1.50, 1.40, 1.30, 1.20,
              1.10, 1.00, 0.90, 1.02, 1.05, 0.92, 0.98, 1.02, 1.08, 1.18, 1.10, 1.15, 1.05, 1.12, 1.05, 1.10,
              1.05, 1.12, 1.18, 1.22, 1.25, 1.12, 1.15, 1.00, 0.95]
dar_cam_b = [1.22, 1.28, 1.32, 1.30, 1.20, 1.10, 1.00, 0.96,
             0.94, 0.90, 0.85, 0.88, 0.82, 0.80, 0.85, 0.90, 0.85, 0.92, 0.90, 0.95, 0.92, 1.00, 1.05, 1.12,
             1.20, 1.32, 1.50, 1.72, 2.00, 2.50, 2.70, 1.70, 1.20,
             1.00, 0.92, 0.96, 0.90, 0.94, 0.96, 0.90, 0.92, 0.88, 0.94, 0.90,
             0.98, 1.05, 1.02, 1.12, 1.28, 1.40, 1.55, 1.45, 1.35, 1.28, 1.20, 1.10,
             1.02, 0.98, 0.88, 0.92, 0.90, 0.82, 0.86, 0.92, 0.98, 1.05, 1.10, 1.00, 1.05, 0.98, 1.02, 0.96,
             1.02, 1.00, 1.05, 1.05, 1.12, 1.08, 0.98, 0.90, 0.85]
dar_ftir_extra_t = [2005.68, 2005.72, 2005.76, 2005.79, 2005.84, 2005.88, 2005.93, 2005.96, 2006.04, 2006.12,
                    2006.16, 2006.20, 2006.24, 2006.28, 2006.36, 2006.44, 2006.52, 2006.60, 2006.68, 2006.72,
                    2006.76, 2006.80, 2006.84, 2006.85, 2006.87, 2006.88, 2006.92, 2006.96, 2007.00, 2007.08,
                    2007.16, 2007.24, 2007.32, 2007.40, 2007.52, 2007.56, 2007.64, 2007.68, 2007.72, 2007.76,
                    2007.80, 2007.84, 2007.88, 2007.92, 2007.96, 2008.02, 2008.04, 2008.08, 2008.12, 2008.16,
                    2008.24, 2008.32, 2008.36, 2008.44, 2008.52, 2008.60, 2008.68, 2008.76, 2008.80, 2008.84,
                    2008.88, 2008.91, 2008.93, 2008.99]
dar_ftir_extra_v = [1.45, 1.95, 1.80, 2.18, 1.70, 1.90, 1.15, 1.60, 1.20, 1.40,
                    1.15, 1.50, 1.48, 1.25, 1.30, 1.55, 1.40, 1.65, 2.00, 1.80,
                    2.30, 2.25, 2.75, 3.00, 3.15, 2.65, 2.45, 1.80, 1.65, 1.25,
                    1.55, 1.45, 1.25, 1.55, 1.30, 1.50, 1.55, 1.80, 2.30, 2.35,
                    1.90, 2.15, 2.00, 1.70, 1.90, 2.20, 1.30, 1.45, 1.75, 1.20,
                    1.10, 1.30, 1.65, 1.35, 1.55, 1.30, 1.55, 1.35, 1.70, 1.40,
                    2.58, 2.72, 1.65, 1.70]

# ---------------- series styling ----------------
series_names = ["NIWA-UKCA", "TM5", "GEOS-Chem", "CAM-chem", "FTIR"]
series_colors = {"FTIR": "#000000", "NIWA-UKCA": "#F0501E", "TM5": "#0A14DC",
                 "GEOS-Chem": "#E89E0A", "CAM-chem": "#14D2F5"}
panel_titles = ["CO partial columns at Arrival Heights (0-12km)",
                "CO partial columns at Lauder (0-12km)",
                "CO partial columns at Wollongong (0-12km)",
                "CO total columns at Darwin"]
year_ticks = [2004, 2005, 2006, 2007, 2008, 2009]
y_ranges = [[0.4, 2.0], [0.4, 2.0], [0.4, 3.0], [0.6, 3.6]]
y_ticks = [[0.5, 1.0, 1.5, 2.0], [0.5, 1.0, 1.5, 2.0],
           [0.5, 1.0, 1.5, 2.0, 2.5, 3.0], [1.0, 1.5, 2.0, 2.5, 3.0, 3.5]]

panels = [
    dict(t=ah_t, ftir=ah_ftir,
         models={"NIWA-UKCA": ah_niwa, "TM5": ah_tm5, "GEOS-Chem": ah_geos, "CAM-chem": ah_cam},
         xt=[], xv=[]),
    dict(t=lau_t + lau_t_b, ftir=lau_ftir + lau_ftir_b,
         models={"NIWA-UKCA": lau_niwa + lau_niwa_b, "TM5": lau_tm5 + lau_tm5_b,
                 "GEOS-Chem": lau_geos + lau_geos_b, "CAM-chem": lau_cam + lau_cam_b},
         xt=lau_ftir_extra_t, xv=lau_ftir_extra_v),
    dict(t=wol_t + wol_t_b, ftir=wol_ftir + wol_ftir_b,
         models={"NIWA-UKCA": wol_niwa + wol_niwa_b, "TM5": wol_tm5 + wol_tm5_b,
                 "GEOS-Chem": wol_geos + wol_geos_b, "CAM-chem": wol_cam + wol_cam_b},
         xt=wol_ftir_extra_t, xv=wol_ftir_extra_v),
    dict(t=dar_t + dar_t_b, ftir=dar_ftir + dar_ftir_b,
         models={"NIWA-UKCA": dar_niwa + dar_niwa_b, "TM5": dar_tm5 + dar_tm5_b,
                 "GEOS-Chem": dar_geos + dar_geos_b, "CAM-chem": dar_cam + dar_cam_b},
         xt=dar_ftir_extra_t, xv=dar_ftir_extra_v),
]

# ---------------- layout geometry (pixels) ----------------
W, H = 653, 773
L, R, T, B = 56, 25, 32, 49
panel_px = [(32, 160), (220, 348), (408, 536), (596, 724)]
plot_h = H - T - B


def py(p):
    return (H - B - p) / plot_h


def px(p):
    return (p - L) / (W - L - R)


FONT = "Liberation Sans, Arial, Helvetica, sans-serif"

fig = go.Figure()
for i, pnl in enumerate(panels):
    xa = "x" if i == 0 else f"x{i+1}"
    ya = "y" if i == 0 else f"y{i+1}"
    for name in series_names:
        if name == "FTIR":
            xs = list(pnl["t"]) + list(pnl["xt"])
            ys = list(pnl["ftir"]) + list(pnl["xv"])
            size, lw = 10, 1.6
        else:
            xs = pnl["t"]
            ys = pnl["models"][name]
            size, lw = 7, 1.5
        fig.add_trace(go.Scatter(
            x=xs, y=ys, mode="markers", name=name, showlegend=False, xaxis=xa, yaxis=ya,
            marker=dict(symbol="cross-thin", size=size,
                        line=dict(width=lw, color=series_colors[name]),
                        color=series_colors[name]),
            cliponaxis=True, hoverinfo="skip"))

layout = dict(
    width=W, height=H, margin=dict(l=L, r=R, t=T, b=B, pad=0),
    paper_bgcolor="white", plot_bgcolor="white", showlegend=False,
    font=dict(family=FONT, color="black"),
)
annotations = []
for i in range(4):
    top, bot = panel_px[i]
    xk = "xaxis" if i == 0 else f"xaxis{i+1}"
    yk = "yaxis" if i == 0 else f"yaxis{i+1}"
    ya_name = "y" if i == 0 else f"y{i+1}"
    xa_name = "x" if i == 0 else f"x{i+1}"
    layout[xk] = dict(
        domain=[0, 1], anchor=ya_name, range=[2004, 2009],
        tickvals=year_ticks, ticktext=[str(v) for v in year_ticks],
        ticks="inside", ticklen=5, tickwidth=1, tickcolor="black",
        showline=True, linecolor="black", linewidth=1, mirror="ticks",
        showgrid=False, zeroline=False, tickfont=dict(size=19, family=FONT),
        ticklabelstandoff=3,
    )
    layout[yk] = dict(
        domain=[py(bot), py(top)], anchor=xa_name, range=y_ranges[i],
        tickvals=y_ticks[i], ticktext=[f"{v:.1f}" for v in y_ticks[i]],
        ticks="inside", ticklen=11, tickwidth=1, tickcolor="black",
        minor=dict(dtick=0.1, ticks="inside", ticklen=6, tickwidth=1, tickcolor="black", showgrid=False),
        showline=True, linecolor="black", linewidth=1, mirror="ticks",
        showgrid=False, zeroline=False, tickfont=dict(size=14, family=FONT),
        ticklabelstandoff=3,
    )
    annotations.append(dict(
        text=panel_titles[i], xref="paper", yref="paper", x=px(342), y=py(top - 14),
        xanchor="center", yanchor="middle", showarrow=False, font=dict(size=18, family=FONT)))
    annotations.append(dict(
        text="CO [10<sup>18</sup> molec cm<sup>-2</sup>]", xref="paper", yref="paper",
        x=px(16), y=py((top + bot) / 2), xanchor="center", yanchor="middle", textangle=-90,
        showarrow=False, font=dict(size=14.5, family=FONT)))

annotations.append(dict(text="Year", xref="paper", yref="paper", x=px(342), y=py(761),
                        xanchor="center", yanchor="middle", showarrow=False, font=dict(size=19, family=FONT)))

legend_items = [("FTIR", 343, 50), ("NIWA-UKCA", 433, 50), ("TM5", 433, 62),
                ("GEOS-Chem", 523, 50), ("CAM-chem", 523, 62)]
for name, lx, ly in legend_items:
    annotations.append(dict(text=f"<b>{name}</b>", xref="paper", yref="paper", x=px(lx), y=py(ly),
                            xanchor="left", yanchor="middle", showarrow=False,
                            font=dict(size=11, family=FONT, color=series_colors[name])))

layout["annotations"] = annotations
fig.update_layout(**layout)
fig.write_html("out.html", config={"displayModeBar": False, "staticPlot": True},
               post_script="document.body.style.margin='0px';")
